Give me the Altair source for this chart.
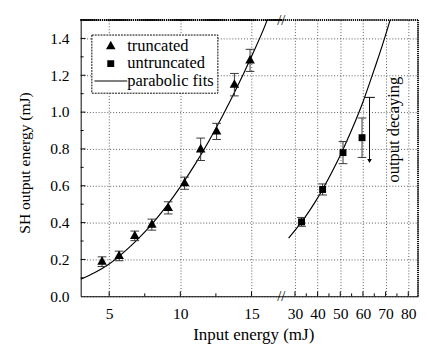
import altair as alt
import pandas as pd

FONT = "Liberation Serif, Times New Roman, Times, serif"

# ---- data ----
tr_x = [4.5, 5.7, 6.8, 8.0, 9.15, 10.3, 11.43, 12.55, 13.8, 14.9]
tr_y = [0.188, 0.219, 0.328, 0.389, 0.480, 0.614, 0.798, 0.895, 1.149, 1.281]
tr_err = [0.026, 0.026, 0.026, 0.030, 0.033, 0.033, 0.061, 0.044, 0.061, 0.060]

un_x = [32.9, 42.2, 51.2, 59.6]
un_y = [0.404, 0.580, 0.780, 0.861]
un_err = [0.024, 0.030, 0.060, 0.107]

fit_tr_x = [3, 4, 5, 6, 7, 8, 9, 10, 11, 12, 13, 14, 15, 16, 16.2]
fit_tr_y = [0.093, 0.129, 0.175, 0.237, 0.309, 0.392, 0.487, 0.594, 0.712, 0.842, 0.984, 1.137, 1.302, 1.479, 1.52]

fit_un_x = [27.2, 30, 33, 36, 39, 42, 45, 48, 51, 54, 57, 60, 63, 66, 69, 72]
fit_un_y = [0.316, 0.358, 0.405, 0.457, 0.514, 0.576, 0.643, 0.715, 0.792, 0.874, 0.961, 1.055, 1.160, 1.268, 1.380, 1.500]

decay_x = [62.9]
decay_hi = [1.08]
decay_lo = [0.735]
note_x = [73.6]
note_y = [0.905]
note_text = ["output decaying"]

series_names = ["truncated", "untruncated", "parabolic fits"]
y_ticks = [0.0, 0.2, 0.4, 0.6, 0.8, 1.0, 1.2, 1.4]
y_minor = [0.1, 0.3, 0.5, 0.7, 0.9, 1.1, 1.3]
xl_ticks = [5, 10, 15]
xl_minor = [7.5, 12.5]
xr_ticks = [30, 40, 50, 60, 70, 80]
xr_minor = [35, 45, 55, 65, 75]
XL_DOM = [3, 17.1]
XR_DOM = [24, 84.3]
Y_DOM = [0, 1.5]

# symbol outlines (unit = sqrt(size)/2 px)
TRI = "M0,-0.33L0.29,0.19L-0.29,0.19Z"
SQR = "M-0.21,-0.21H0.21V0.21H-0.21Z"
LINE = "M-1,-0.03H1V0.03H-1Z"
SYM_SIZE = 1156

# ---- tables ----
tr_df = pd.DataFrame({"x": tr_x, "y": tr_y, "e": tr_err, "series": "truncated"})
tr_df["lo"] = tr_df["y"] - tr_df["e"]
tr_df["hi"] = tr_df["y"] + tr_df["e"]
un_df = pd.DataFrame({"x": un_x, "y": un_y, "e": un_err, "series": "untruncated"})
un_df["lo"] = un_df["y"] - un_df["e"]
un_df["hi"] = un_df["y"] + un_df["e"]
fit_tr = pd.DataFrame({"x": fit_tr_x, "y": fit_tr_y})
fit_un = pd.DataFrame({"x": fit_un_x, "y": fit_un_y})
decay_df = pd.DataFrame({"x": decay_x, "lo": decay_lo, "hi": decay_hi})
note_df = pd.DataFrame({"x": note_x, "y": note_y, "t": note_text})

ysc = alt.Scale(domain=Y_DOM, nice=False, zero=False)
xls = alt.Scale(domain=XL_DOM, nice=False, zero=False)
xrs = alt.Scale(domain=XR_DOM, nice=False, zero=False)

common = dict(labelFont=FONT, labelFontSize=16, labelColor="black",
              titleFont=FONT, titleColor="black",
              titleFontWeight="normal", ticks=False, tickSize=0,
              domainColor="black", domainWidth=1, grid=True,
              gridColor="#555", gridDash=[1, 2], gridWidth=1,
              labelFlush=False, labelOverlap=False, labelSeparation=0)

yl_axis = alt.Axis(values=y_ticks, format=".1f", title="SH output energy (mJ)", titleFontSize=16,
                   titleX=-58, titleY=147, titleAngle=270, titleBaseline="middle",
                   titleAlign="center", labelPadding=12, **common)
yr_axis = alt.Axis(values=y_ticks, labels=False, domain=False, title=None, **common)
xl_axis = alt.Axis(values=xl_ticks, title="Input energy (mJ)", titleFontSize=17.5, titleX=178,
                   titleY=45, titleBaseline="alphabetic", titleAlign="center", labelPadding=10,
                   **common)
xr_axis = alt.Axis(values=xr_ticks, title=None, labelPadding=10, **common)


def panel(xs, xa, ya):
    def X(f):
        return alt.X(f, type="quantitative", scale=xs, axis=xa)

    def Y(f):
        return alt.Y(f, type="quantitative", scale=ysc, axis=ya)

    def XD(v):
        return alt.XDatum(v, type="quantitative", scale=xs, axis=xa)

    def YD(v):
        return alt.YDatum(v, type="quantitative", scale=ysc, axis=ya)
    return X, Y, XD, YD


def tick_layers(X, Y, XD, YD, xdom, xt, xm, yt=None, ym=None):
    layers = []
    up = "M0,0V-1"
    right = "M0,0H1"
    for vals, sz in ((xt, 100), (xm, 36)):
        d = pd.DataFrame({"x": vals})
        layers.append(alt.Chart(d).mark_point(shape=up, size=sz, filled=False, color="black",
                                              strokeWidth=1, opacity=1)
                      .encode(x=X("x"), y=YD(0)))
    if yt is not None:
        for vals, sz in ((yt, 100), (ym, 36)):
            d = pd.DataFrame({"y": vals})
            layers.append(alt.Chart(d).mark_point(shape=right, size=sz, filled=False,
                                                  color="black", strokeWidth=1, opacity=1)
                          .encode(x=XD(xdom[0]), y=Y("y")))
    return layers


# ---------- left panel ----------
XL, YL, XLD, YLD = panel(xls, xl_axis, yl_axis)
shape_scale = alt.Scale(domain=series_names, range=[TRI, SQR, LINE])
legend = alt.Legend(
    title=None, orient="none", legendX=11, legendY=15,
    labelFont=FONT, labelFontSize=17, labelColor="black",
    symbolSize=SYM_SIZE, symbolFillColor="black", symbolStrokeWidth=0,
    labelOffset=0, clipHeight=18, rowPadding=0, padding=3, symbolOffset=0)

l_fit = alt.Chart(fit_tr).mark_line(clip=True, color="black", strokeWidth=1.2,
                                    interpolate="monotone").encode(x=XL("x"), y=YL("y"))
l_err = alt.Chart(tr_df).mark_rule(color="#333", strokeWidth=1).encode(
    x=XL("x"), y=YL("lo"), y2="hi")
l_cap_lo = alt.Chart(tr_df).mark_tick(orient="horizontal", size=9, thickness=1, color="#333",
                                      opacity=1).encode(x=XL("x"), y=YL("lo"))
l_cap_hi = alt.Chart(tr_df).mark_tick(orient="horizontal", size=9, thickness=1, color="#333",
                                      opacity=1).encode(x=XL("x"), y=YL("hi"))
l_pts = alt.Chart(tr_df).mark_point(filled=True, color="black", opacity=1,
                                    size=SYM_SIZE).encode(
    x=XL("x"), y=YL("y"),
    shape=alt.Shape("series:N", scale=shape_scale, legend=legend))
l_top = alt.Chart(tr_df).mark_rule(color="black", strokeDash=[1, 1]).encode(y=YLD(1.5))
l_brk = alt.Chart(pd.DataFrame({"yb": [0.0, 1.5]})).mark_text(
    text="//", font=FONT, fontSize=15, color="black").encode(x=XLD(XL_DOM[1]), y=YL("yb"))

left = alt.layer(l_fit, l_err, l_cap_lo, l_cap_hi, l_top, l_brk,
                 *tick_layers(XL, YL, XLD, YLD, XL_DOM, xl_ticks, xl_minor, y_ticks[1:], y_minor),
                 l_pts).properties(width=207, height=285)

# ---------- right panel ----------
XR, YR, XRD, YRD = panel(xrs, xr_axis, yr_axis)
r_fit = alt.Chart(fit_un).mark_line(clip=True, color="black", strokeWidth=1.2,
                                    interpolate="monotone").encode(x=XR("x"), y=YR("y"))
r_err = alt.Chart(un_df).mark_rule(color="#333", strokeWidth=1).encode(
    x=XR("x"), y=YR("lo"), y2="hi")
r_cap_lo = alt.Chart(un_df).mark_tick(orient="horizontal", size=9, thickness=1, color="#333",
                                      opacity=1).encode(x=XR("x"), y=YR("lo"))
r_cap_hi = alt.Chart(un_df).mark_tick(orient="horizontal", size=9, thickness=1, color="#333",
                                      opacity=1).encode(x=XR("x"), y=YR("hi"))
r_pts = alt.Chart(un_df).mark_point(filled=True, color="black", opacity=1, shape=SQR,
                                    size=SYM_SIZE).encode(x=XR("x"), y=YR("y"))
d_line = alt.Chart(decay_df).mark_rule(color="black", strokeWidth=1).encode(
    x=XR("x"), y=YR("lo"), y2="hi")
d_cap = alt.Chart(decay_df).mark_tick(orient="horizontal", size=11, thickness=1, color="black",
                                      opacity=1).encode(x=XR("x"), y=YR("hi"))
d_head = alt.Chart(decay_df).mark_point(shape="triangle-down", filled=True, color="black",
                                        size=22, opacity=1).encode(x=XR("x"), y=YR("lo"))
note = alt.Chart(note_df).mark_text(font=FONT, fontSize=17, angle=270, color="black",
                                    align="center", baseline="middle").encode(
    x=XR("x"), y=YR("y"), text="t:N")
r_top = alt.Chart(un_df).mark_rule(color="black", strokeDash=[1, 1]).encode(y=YRD(1.5))
r_right = alt.Chart(un_df).mark_rule(color="black", strokeDash=[1, 1]).encode(
    x=XRD(XR_DOM[1]))

right = alt.layer(r_fit, r_err, r_cap_lo, r_cap_hi, d_line, d_cap, d_head, note, r_top, r_right,
                  *tick_layers(XR, YR, XRD, YRD, XR_DOM, xr_ticks, xr_minor),
                  r_pts).properties(width=141, height=285)

chart = (alt.hconcat(left, right, spacing=0, bounds="flush")
         .resolve_scale(x="independent", shape="independent")
         .resolve_legend(shape="independent")
         .properties(padding={"left": 9, "top": 0, "right": 0, "bottom": 0})
         .configure(font=FONT)
         .configure_axis(labelOverlap=False, labelFont=FONT, titleFont=FONT)
         .configure_text(font=FONT)
         .configure_view(stroke=None)
         .configure_legend(strokeColor="black", strokeDash=[2, 1], strokeWidth=1,
                           fillColor="white", labelFont=FONT))

chart.save("out.html", embed_options={"renderer": "svg", "actions": False})
